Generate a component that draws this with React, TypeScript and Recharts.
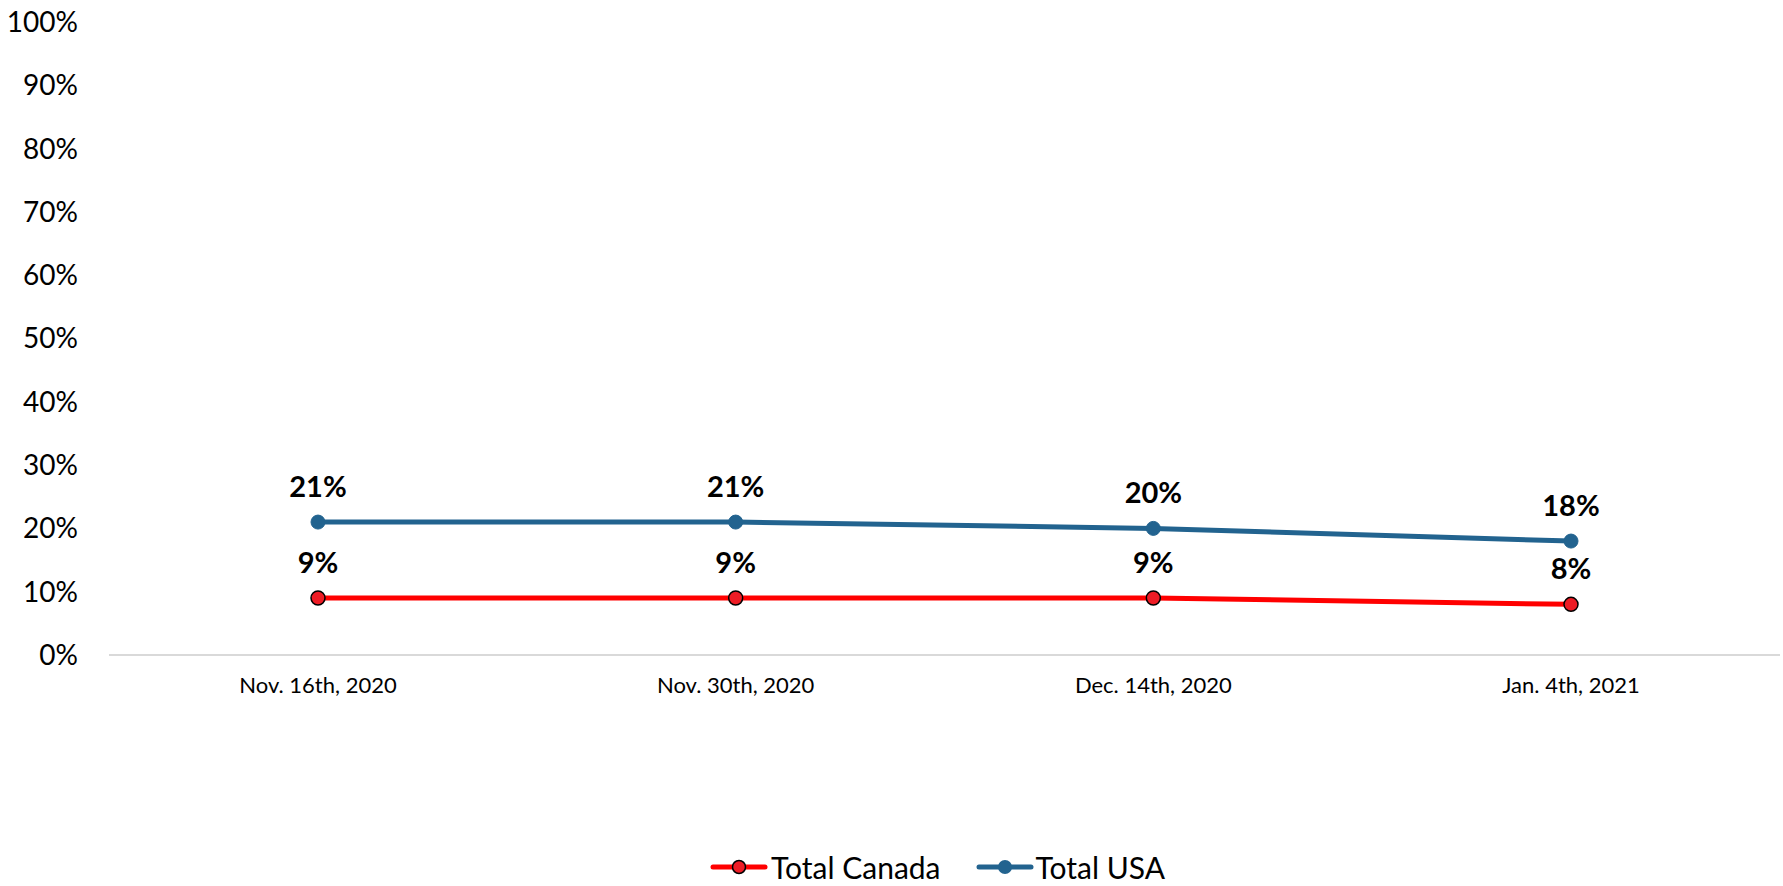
import React from 'react';
import { LineChart, Line, XAxis, YAxis } from 'recharts';

const categories = ['Nov. 16th, 2020', 'Nov. 30th, 2020', 'Dec. 14th, 2020', 'Jan. 4th, 2021'];
const canada = [9, 9, 9, 8];
const usa = [21, 21, 20, 18];
const yTicks = [0, 10, 20, 30, 40, 50, 60, 70, 80, 90, 100];
const seriesNames = ['Total Canada', 'Total USA'];

const data = categories.map((c, i) => ({ name: c, canada: canada[i], usa: usa[i] }));

const FONT = 'Lato, "Open Sans", sans-serif';
const RED = '#FF0000';
const RED_FILL = '#EE1C25';
const BLUE = '#22638F';

const makeLabel = (dy: number) => (props: any) => {
  const { x, y, value } = props;
  return (
    <text x={x} y={y - dy} textAnchor="middle" dominantBaseline="central" fontFamily={FONT} fontWeight={700} fontSize={29} fill="#000">
      {value}%
    </text>
  );
};

const LegendBlock = () => (
  <div style={{ position: 'absolute', left: 710, top: 852, height: 30, lineHeight: '30px', display: 'flex', alignItems: 'center', fontFamily: FONT, fontSize: 30, color: '#000', whiteSpace: 'nowrap' }}>
    <svg width={58} height={20} style={{ marginRight: 3 }}>
      <line x1={3} y1={10} x2={55} y2={10} stroke={RED} strokeWidth={5} strokeLinecap="round" />
      <circle cx={29} cy={10} r={6.5} fill={RED_FILL} stroke="#000" strokeWidth={1.5} />
    </svg>
    <span style={{ marginRight: 35 }}>{seriesNames[0]}</span>
    <svg width={58} height={20} style={{ marginRight: 2 }}>
      <line x1={3} y1={10} x2={55} y2={10} stroke={BLUE} strokeWidth={5} strokeLinecap="round" />
      <circle cx={29} cy={10} r={7} fill={BLUE} />
    </svg>
    <span>{seriesNames[1]}</span>
  </div>
);

export default function App() {
  return (
    <div style={{ position: 'fixed', left: 0, top: 0, width: 1783, height: 886, background: '#fff', overflow: 'hidden' }}>
      <LineChart width={1783} height={886} data={data} margin={{ top: 22, right: 3, bottom: 201, left: 0 }}>
        <XAxis
          dataKey="name"
          height={30}
          padding={{ left: 209, right: 209 }}
          axisLine={{ stroke: '#D9D9D9', strokeWidth: 2 }}
          tickLine={false}
          tickSize={0}
          tickMargin={22}
          tick={{ fontFamily: FONT, fontSize: 22, fill: '#000' }}
          interval={0}
        />
        <YAxis
          domain={[0, 100]}
          ticks={yTicks}
          width={109}
          axisLine={false}
          tickLine={false}
          tickSize={0}
          tickMargin={31}
          tickFormatter={(v: number) => `${v}%`}
          tick={{ fontFamily: FONT, fontSize: 28, fill: '#000' }}
        />
        <Line
          name={seriesNames[0]}
          dataKey="canada"
          stroke={RED}
          strokeWidth={5}
          isAnimationActive={false}
          dot={{ r: 7, fill: RED_FILL, stroke: '#000', strokeWidth: 1.5 }}
          activeDot={false}
          label={makeLabel(37)}
        />
        <Line
          name={seriesNames[1]}
          dataKey="usa"
          stroke={BLUE}
          strokeWidth={5}
          isAnimationActive={false}
          dot={{ r: 7, fill: BLUE, stroke: BLUE, strokeWidth: 1 }}
          activeDot={false}
          label={makeLabel(37)}
        />
      </LineChart>
      <LegendBlock />
    </div>
  );
}
